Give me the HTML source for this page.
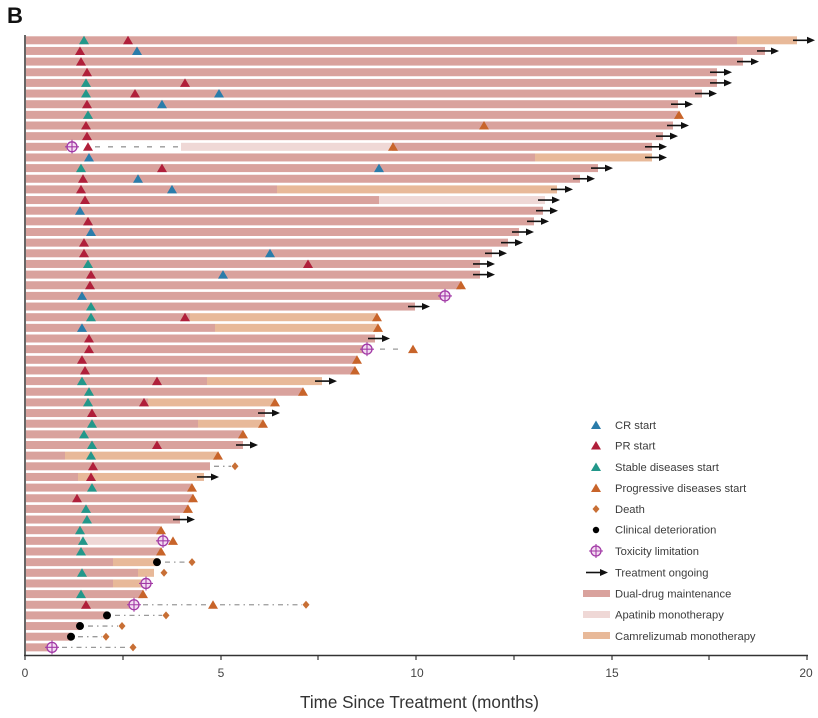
<!DOCTYPE html>
<html><head><meta charset="utf-8"><style>
html,body{margin:0;padding:0;background:#fff}
svg{display:block}
.d{fill:#d9a29d}.a{fill:#efd8d6}.c{fill:#e8b999}
.cr{fill:#2a7caa}.pr{fill:#b01f3a}.sd{fill:#22978a}.pd{fill:#c8642a}
.dl{stroke:#9a9a9a;stroke-width:1.3;stroke-dasharray:5,4,1.5,4;fill:none}
.gl{stroke:#9a9a9a;stroke-width:1.3;stroke-dasharray:5,8;fill:none}
text{font-family:"Liberation Sans",Arial,sans-serif}
.lg{font-size:11.2px;fill:#3c3c3c}
.tk{font-family:"Liberation Sans Narrow","Liberation Sans",sans-serif;font-size:12px;fill:#444}
</style></head><body>
<svg width="818" height="718" viewBox="0 0 818 718" xmlns="http://www.w3.org/2000/svg" xmlns:xlink="http://www.w3.org/1999/xlink">
<defs>
<polygon id="t" points="0,-4.5 5,4 -5,4"/>
<polygon id="dm" points="0,-4 3.5,0 0,4 -3.5,0" fill="#c86f35"/>
<g id="tx"><circle r="5" fill="#f3dcf1" stroke="#a23aa6" stroke-width="1.3"/><path d="M-7,0H7M0,-7V7" stroke="#a23aa6" stroke-width="1.1"/></g>
<g id="ar"><line x1="0" y1="0" x2="16" y2="0" stroke="#111" stroke-width="1.6"/><polygon points="22,0 14,-3.5 14,3.5" fill="#111"/></g>
<circle id="bk" r="4" fill="#000"/>
</defs>

<text x="7" y="23" font-size="22" font-weight="bold" fill="#111">B</text>

<!-- rows -->
<g transform="translate(0,40.3)"><rect class="d" x="26" y="-4" width="711" height="8"/><rect class="c" x="737" y="-4" width="60" height="8"/><use href="#t" x="84" class="sd"/><use href="#t" x="128" class="pr"/><use href="#ar" x="793"/></g>
<g transform="translate(0,50.95)"><rect class="d" x="26" y="-4" width="739" height="8"/><use href="#t" x="80" class="pr"/><use href="#t" x="137" class="cr"/><use href="#ar" x="757"/></g>
<g transform="translate(0,61.6)"><rect class="d" x="26" y="-4" width="717" height="8"/><use href="#t" x="81" class="pr"/><use href="#ar" x="737"/></g>
<g transform="translate(0,72.25)"><rect class="d" x="26" y="-4" width="691" height="8"/><use href="#t" x="87" class="pr"/><use href="#ar" x="710"/></g>
<g transform="translate(0,82.9)"><rect class="d" x="26" y="-4" width="691" height="8"/><use href="#t" x="86" class="sd"/><use href="#t" x="185" class="pr"/><use href="#ar" x="710"/></g>
<g transform="translate(0,93.55)"><rect class="d" x="26" y="-4" width="676" height="8"/><use href="#t" x="86" class="sd"/><use href="#t" x="135" class="pr"/><use href="#t" x="219" class="cr"/><use href="#ar" x="695"/></g>
<g transform="translate(0,104.2)"><rect class="d" x="26" y="-4" width="652" height="8"/><use href="#t" x="87" class="pr"/><use href="#t" x="162" class="cr"/><use href="#ar" x="671"/></g>
<g transform="translate(0,114.85)"><rect class="d" x="26" y="-4" width="652" height="8"/><use href="#t" x="88" class="sd"/><use href="#t" x="679" class="pd"/></g>
<g transform="translate(0,125.5)"><rect class="d" x="26" y="-4" width="647" height="8"/><use href="#t" x="86" class="pr"/><use href="#t" x="484" class="pd"/><use href="#ar" x="667"/></g>
<g transform="translate(0,136.15)"><rect class="d" x="26" y="-4" width="637" height="8"/><use href="#t" x="87" class="pr"/><use href="#ar" x="656"/></g>
<g transform="translate(0,146.8)"><rect class="d" x="26" y="-4" width="41" height="8"/><line class="gl" x1="95" y1="0" x2="180" y2="0"/><rect class="a" x="181" y="-4" width="211" height="8"/><rect class="d" x="392" y="-4" width="260" height="8"/><use href="#tx" x="72"/><use href="#t" x="88" class="pr"/><use href="#t" x="393" class="pd"/><use href="#ar" x="645"/></g>
<g transform="translate(0,157.45)"><rect class="d" x="26" y="-4" width="509" height="8"/><rect class="c" x="535" y="-4" width="117" height="8"/><use href="#t" x="89" class="cr"/><use href="#ar" x="645"/></g>
<g transform="translate(0,168.1)"><rect class="d" x="26" y="-4" width="572" height="8"/><use href="#t" x="81" class="sd"/><use href="#t" x="162" class="pr"/><use href="#t" x="379" class="cr"/><use href="#ar" x="591"/></g>
<g transform="translate(0,178.75)"><rect class="d" x="26" y="-4" width="554" height="8"/><use href="#t" x="83" class="pr"/><use href="#t" x="138" class="cr"/><use href="#ar" x="573"/></g>
<g transform="translate(0,189.4)"><rect class="d" x="26" y="-4" width="251" height="8"/><rect class="c" x="277" y="-4" width="280" height="8"/><use href="#t" x="81" class="pr"/><use href="#t" x="172" class="cr"/><use href="#ar" x="551"/></g>
<g transform="translate(0,200.05)"><rect class="d" x="26" y="-4" width="353" height="8"/><rect class="a" x="379" y="-4" width="166" height="8"/><use href="#t" x="85" class="pr"/><use href="#ar" x="538"/></g>
<g transform="translate(0,210.7)"><rect class="d" x="26" y="-4" width="517" height="8"/><use href="#t" x="80" class="cr"/><use href="#ar" x="536"/></g>
<g transform="translate(0,221.35)"><rect class="d" x="26" y="-4" width="508" height="8"/><use href="#t" x="88" class="pr"/><use href="#ar" x="527"/></g>
<g transform="translate(0,232)"><rect class="d" x="26" y="-4" width="493" height="8"/><use href="#t" x="91" class="cr"/><use href="#ar" x="512"/></g>
<g transform="translate(0,242.65)"><rect class="d" x="26" y="-4" width="482" height="8"/><use href="#t" x="84" class="pr"/><use href="#ar" x="501"/></g>
<g transform="translate(0,253.3)"><rect class="d" x="26" y="-4" width="466" height="8"/><use href="#t" x="84" class="pr"/><use href="#t" x="270" class="cr"/><use href="#ar" x="485"/></g>
<g transform="translate(0,263.95)"><rect class="d" x="26" y="-4" width="454" height="8"/><use href="#t" x="88" class="sd"/><use href="#t" x="308" class="pr"/><use href="#ar" x="473"/></g>
<g transform="translate(0,274.6)"><rect class="d" x="26" y="-4" width="454" height="8"/><use href="#t" x="91" class="pr"/><use href="#t" x="223" class="cr"/><use href="#ar" x="473"/></g>
<g transform="translate(0,285.25)"><rect class="d" x="26" y="-4" width="435" height="8"/><use href="#t" x="90" class="pr"/><use href="#t" x="461" class="pd"/></g>
<g transform="translate(0,295.9)"><rect class="d" x="26" y="-4" width="419" height="8"/><use href="#t" x="82" class="cr"/><use href="#tx" x="445"/></g>
<g transform="translate(0,306.55)"><rect class="d" x="26" y="-4" width="389" height="8"/><use href="#t" x="91" class="sd"/><use href="#ar" x="408"/></g>
<g transform="translate(0,317.2)"><rect class="d" x="26" y="-4" width="164" height="8"/><rect class="c" x="190" y="-4" width="187" height="8"/><use href="#t" x="91" class="sd"/><use href="#t" x="185" class="pr"/><use href="#t" x="377" class="pd"/></g>
<g transform="translate(0,327.85)"><rect class="d" x="26" y="-4" width="189" height="8"/><rect class="c" x="215" y="-4" width="163" height="8"/><use href="#t" x="82" class="cr"/><use href="#t" x="378" class="pd"/></g>
<g transform="translate(0,338.5)"><rect class="d" x="26" y="-4" width="349" height="8"/><use href="#t" x="89" class="pr"/><use href="#ar" x="368"/></g>
<g transform="translate(0,349.15)"><rect class="d" x="26" y="-4" width="341" height="8"/><line class="gl" x1="380" y1="0" x2="406" y2="0"/><use href="#t" x="89" class="pr"/><use href="#tx" x="367"/><use href="#t" x="413" class="pd"/></g>
<g transform="translate(0,359.8)"><rect class="d" x="26" y="-4" width="331" height="8"/><use href="#t" x="82" class="pr"/><use href="#t" x="357" class="pd"/></g>
<g transform="translate(0,370.45)"><rect class="d" x="26" y="-4" width="329" height="8"/><use href="#t" x="85" class="pr"/><use href="#t" x="355" class="pd"/></g>
<g transform="translate(0,381.1)"><rect class="d" x="26" y="-4" width="181" height="8"/><rect class="c" x="207" y="-4" width="115" height="8"/><use href="#t" x="82" class="sd"/><use href="#t" x="157" class="pr"/><use href="#ar" x="315"/></g>
<g transform="translate(0,391.75)"><rect class="d" x="26" y="-4" width="277" height="8"/><use href="#t" x="89" class="sd"/><use href="#t" x="303" class="pd"/></g>
<g transform="translate(0,402.4)"><rect class="d" x="26" y="-4" width="122" height="8"/><rect class="c" x="148" y="-4" width="127" height="8"/><use href="#t" x="88" class="sd"/><use href="#t" x="144" class="pr"/><use href="#t" x="275" class="pd"/></g>
<g transform="translate(0,413.05)"><rect class="d" x="26" y="-4" width="239" height="8"/><use href="#t" x="92" class="pr"/><use href="#ar" x="258"/></g>
<g transform="translate(0,423.7)"><rect class="d" x="26" y="-4" width="172" height="8"/><rect class="c" x="198" y="-4" width="65" height="8"/><use href="#t" x="92" class="sd"/><use href="#t" x="263" class="pd"/></g>
<g transform="translate(0,434.35)"><rect class="d" x="26" y="-4" width="217" height="8"/><use href="#t" x="84" class="sd"/><use href="#t" x="243" class="pd"/></g>
<g transform="translate(0,445)"><rect class="d" x="26" y="-4" width="217" height="8"/><use href="#t" x="92" class="sd"/><use href="#t" x="157" class="pr"/><use href="#ar" x="236"/></g>
<g transform="translate(0,455.65)"><rect class="d" x="26" y="-4" width="39" height="8"/><rect class="c" x="65" y="-4" width="152" height="8"/><use href="#t" x="91" class="sd"/><use href="#t" x="218" class="pd"/></g>
<g transform="translate(0,466.3)"><rect class="d" x="26" y="-4" width="184" height="8"/><line class="dl" x1="214" y1="0" x2="231" y2="0"/><use href="#t" x="93" class="pr"/><use href="#dm" x="235"/></g>
<g transform="translate(0,476.95)"><rect class="d" x="26" y="-4" width="52" height="8"/><rect class="c" x="78" y="-4" width="126" height="8"/><use href="#t" x="91" class="pr"/><use href="#ar" x="197"/></g>
<g transform="translate(0,487.6)"><rect class="d" x="26" y="-4" width="166" height="8"/><use href="#t" x="92" class="sd"/><use href="#t" x="192" class="pd"/></g>
<g transform="translate(0,498.25)"><rect class="d" x="26" y="-4" width="167" height="8"/><use href="#t" x="77" class="pr"/><use href="#t" x="193" class="pd"/></g>
<g transform="translate(0,508.9)"><rect class="d" x="26" y="-4" width="162" height="8"/><use href="#t" x="86" class="sd"/><use href="#t" x="188" class="pd"/></g>
<g transform="translate(0,519.55)"><rect class="d" x="26" y="-4" width="154" height="8"/><use href="#t" x="87" class="sd"/><use href="#ar" x="173"/></g>
<g transform="translate(0,530.2)"><rect class="d" x="26" y="-4" width="134" height="8"/><use href="#t" x="80" class="sd"/><use href="#t" x="161" class="pd"/></g>
<g transform="translate(0,540.85)"><rect class="d" x="26" y="-4" width="54" height="8"/><rect class="a" x="80" y="-4" width="83" height="8"/><use href="#t" x="83" class="sd"/><use href="#tx" x="163"/><use href="#t" x="173" class="pd"/></g>
<g transform="translate(0,551.5)"><rect class="d" x="26" y="-4" width="134" height="8"/><use href="#t" x="81" class="sd"/><use href="#t" x="161" class="pd"/></g>
<g transform="translate(0,562.15)"><rect class="d" x="26" y="-4" width="87" height="8"/><rect class="c" x="113" y="-4" width="44" height="8"/><line class="dl" x1="165" y1="0" x2="188" y2="0"/><use href="#bk" x="157"/><use href="#dm" x="192"/></g>
<g transform="translate(0,572.8)"><rect class="d" x="26" y="-4" width="112" height="8"/><rect class="c" x="138" y="-4" width="16" height="8"/><use href="#t" x="82" class="sd"/><use href="#dm" x="164"/></g>
<g transform="translate(0,583.45)"><rect class="d" x="26" y="-4" width="87" height="8"/><rect class="c" x="113" y="-4" width="33" height="8"/><use href="#tx" x="146"/></g>
<g transform="translate(0,594.1)"><rect class="d" x="26" y="-4" width="117" height="8"/><use href="#t" x="81" class="sd"/><use href="#t" x="143" class="pd"/></g>
<g transform="translate(0,604.75)"><rect class="d" x="26" y="-4" width="108" height="8"/><line class="dl" x1="143" y1="0" x2="208" y2="0"/><line class="dl" x1="220" y1="0" x2="302" y2="0"/><use href="#t" x="86" class="pr"/><use href="#tx" x="134"/><use href="#t" x="213" class="pd"/><use href="#dm" x="306"/></g>
<g transform="translate(0,615.4)"><rect class="d" x="26" y="-4" width="81" height="8"/><line class="dl" x1="115" y1="0" x2="162" y2="0"/><use href="#bk" x="107"/><use href="#dm" x="166"/></g>
<g transform="translate(0,626.05)"><rect class="d" x="26" y="-4" width="54" height="8"/><line class="dl" x1="88" y1="0" x2="118" y2="0"/><use href="#bk" x="80"/><use href="#dm" x="122"/></g>
<g transform="translate(0,636.7)"><rect class="d" x="26" y="-4" width="45" height="8"/><line class="dl" x1="78" y1="0" x2="102" y2="0"/><use href="#bk" x="71"/><use href="#dm" x="106"/></g>
<g transform="translate(0,647.35)"><rect class="d" x="26" y="-4" width="26" height="8"/><line class="dl" x1="62" y1="0" x2="128" y2="0"/><use href="#tx" x="52"/><use href="#dm" x="133"/></g>

<!-- axes -->
<line x1="25" y1="35" x2="25" y2="656" stroke="#333" stroke-width="1.5"/>
<line x1="24" y1="655.5" x2="808" y2="655.5" stroke="#333" stroke-width="1.5"/>
<g stroke="#333" stroke-width="1.2">
<line x1="25" y1="655" x2="25" y2="660"/><line x1="123" y1="655" x2="123" y2="660"/><line x1="221" y1="655" x2="221" y2="660"/><line x1="318" y1="655" x2="318" y2="660"/><line x1="416" y1="655" x2="416" y2="660"/><line x1="514" y1="655" x2="514" y2="660"/><line x1="612" y1="655" x2="612" y2="660"/><line x1="709" y1="655" x2="709" y2="660"/><line x1="807" y1="655" x2="807" y2="660"/>
</g>
<g class="tk" text-anchor="middle">
<text x="25" y="677">0</text><text x="221" y="677">5</text><text x="417" y="677">10</text><text x="612" y="677">15</text><text x="806" y="677">20</text>
</g>
<text x="300" y="708" font-family="'Liberation Sans Narrow','Liberation Sans',sans-serif" font-size="17.5" fill="#333" textLength="239" lengthAdjust="spacingAndGlyphs">Time Since Treatment (months)</text>

<!-- legend -->
<use href="#t" x="596" y="425" class="cr"/><text class="lg" x="615" y="429">CR start</text>
<use href="#t" x="596" y="445.5" class="pr"/><text class="lg" x="615" y="449.5">PR start</text>
<use href="#t" x="596" y="467" class="sd"/><text class="lg" x="615" y="471">Stable diseases start</text>
<use href="#t" x="596" y="488" class="pd"/><text class="lg" x="615" y="492">Progressive diseases start</text>
<use href="#dm" x="596" y="509"/><text class="lg" x="615" y="513">Death</text>
<circle cx="596" cy="530" r="3.2" fill="#000"/><text class="lg" x="615" y="533.5">Clinical deterioration</text>
<use href="#tx" x="596" y="551"/><text class="lg" x="615" y="555">Toxicity limitation</text>
<use href="#ar" x="586" y="572.5"/><text class="lg" x="615" y="576.5">Treatment ongoing</text>
<rect class="d" x="583" y="590" width="27" height="7"/><text class="lg" x="615" y="597.5">Dual-drug maintenance</text>
<rect class="a" x="583" y="611" width="27" height="7"/><text class="lg" x="615" y="618.5">Apatinib monotherapy</text>
<rect class="c" x="583" y="632" width="27" height="7"/><text class="lg" x="615" y="640">Camrelizumab monotherapy</text>
</svg>
</body></html>
